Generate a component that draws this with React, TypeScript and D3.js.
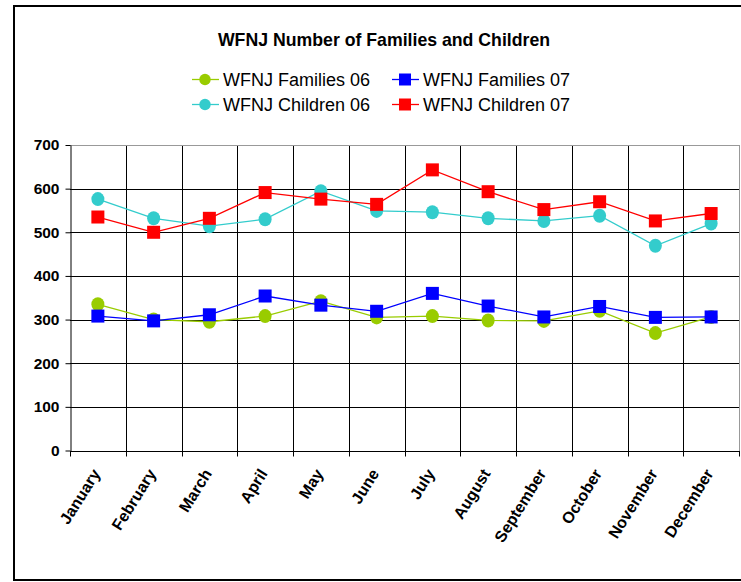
import React, { useEffect, useRef } from 'react'
import * as d3 from 'd3'

const months = ['January', 'February', 'March', 'April', 'May', 'June', 'July', 'August', 'September', 'October', 'November', 'December']
const families06 = [335, 300, 295, 308, 342, 305, 308, 298, 297, 320, 269, 306]
const families07 = [308, 297, 311, 354, 333, 319, 360, 331, 306, 330, 305, 306]
const children06 = [576, 532, 514, 530, 594, 549, 546, 532, 526, 538, 469, 520]
const children07 = [535, 500, 532, 591, 576, 564, 643, 593, 552, 570, 526, 543]
const yTicks = [0, 100, 200, 300, 400, 500, 600, 700]

const seriesList = [
  { name: 'WFNJ Families 06', values: families06, color: '#99CC00', marker: 'circle' },
  { name: 'WFNJ Families 07', values: families07, color: '#0000FF', marker: 'square' },
  { name: 'WFNJ Children 06', values: children06, color: '#33CCCC', marker: 'circle' },
  { name: 'WFNJ Children 07', values: children07, color: '#FF0000', marker: 'square' },
]

const FONT = '"Liberation Sans", Arial, sans-serif'

function drawMarker(g: any, kind: string, cx: number, cy: number, color: string) {
  if (kind === 'circle') {
    g.append('ellipse').attr('cx', cx).attr('cy', cy).attr('rx', 6.5).attr('ry', 7).attr('fill', color)
  } else {
    g.append('rect').attr('x', cx - 6.5).attr('y', cy - 6.5).attr('width', 13).attr('height', 13).attr('fill', color)
  }
}

export default function App() {
  const ref = useRef<SVGSVGElement>(null)

  useEffect(() => {
    const svg = d3.select(ref.current)
    svg.selectAll('*').remove()

    const left = 70, right = 739, top = 145, bottom = 450.5

    // outer frame
    svg.append('rect')
      .attr('x', 14).attr('y', 6).attr('width', 760).attr('height', 574)
      .attr('fill', 'white').attr('stroke', '#000').attr('stroke-width', 2)

    const x = d3.scaleBand().domain(months).range([left, right])
    const y = d3.scaleLinear().domain([0, 700]).range([bottom, top])

    // grid
    const grid = svg.append('g').attr('shape-rendering', 'crispEdges')
    grid.selectAll('line.h')
      .data(yTicks.slice(1, -1))
      .join('line')
      .attr('x1', left).attr('x2', right)
      .attr('y1', d => Math.round(y(d)) + 0.5).attr('y2', d => Math.round(y(d)) + 0.5)
      .attr('stroke', '#000')
    grid.selectAll('line.v')
      .data(months.slice(1))
      .join('line')
      .attr('x1', d => Math.round(x(d)!) + 0.5).attr('x2', d => Math.round(x(d)!) + 0.5)
      .attr('y1', top).attr('y2', bottom)
      .attr('stroke', '#000')
    // plot border top/right
    grid.append('path')
      .attr('d', `M${left},${top + 0.5}H${right + 0.5}V${bottom}`)
      .attr('fill', 'none').attr('stroke', '#999')

    // y axis
    const yAxis = svg.append('g')
      .attr('transform', `translate(${left + 0.5},0)`)
      .call(d3.axisLeft(y).tickValues(yTicks).tickSize(5).tickPadding(6).tickSizeOuter(0))
    yAxis.select('.domain').attr('stroke', '#000')
    yAxis.selectAll('text').attr('font-family', FONT).attr('font-size', 15.5).attr('font-weight', 'bold').attr('fill', '#000')

    // x axis
    const xAxis = svg.append('g')
      .attr('transform', `translate(0,${Math.round(bottom) + 0.5})`)
    xAxis.append('line').attr('x1', left).attr('x2', right + 1).attr('stroke', '#000')
    xAxis.selectAll('line.tick')
      .data(months.concat(['end']))
      .join('line')
      .attr('x1', (d, i) => Math.round(left + i * x.bandwidth()) + 0.5)
      .attr('x2', (d, i) => Math.round(left + i * x.bandwidth()) + 0.5)
      .attr('y1', 0).attr('y2', 5)
      .attr('stroke', '#000')
    xAxis.selectAll('text')
      .data(months)
      .join('text')
      .attr('transform', d => `translate(${x(d)! + x.bandwidth() / 2 + 3},22) rotate(-58)`)
      .attr('text-anchor', 'end')
      .attr('font-family', FONT).attr('font-size', 16).attr('font-weight', 'bold')
      .text(d => d)

    // series
    const line = d3.line<number>()
      .x((d, i) => x(months[i])! + x.bandwidth() / 2)
      .y(d => y(d))
    seriesList.forEach(s => {
      const g = svg.append('g')
      g.append('path').attr('d', line(s.values)).attr('fill', 'none').attr('stroke', s.color).attr('stroke-width', 1.3)
      s.values.forEach((v, i) => drawMarker(g, s.marker, x(months[i])! + x.bandwidth() / 2, y(v), s.color))
    })

    // title
    svg.append('text')
      .attr('x', 384).attr('y', 45.5)
      .attr('text-anchor', 'middle')
      .attr('font-family', FONT).attr('font-size', 17.7).attr('font-weight', 'bold')
      .text('WFNJ Number of Families and Children')

    // legend
    const legendPos = [[192, 79.5], [392, 79.5], [192, 104.5], [392, 104.5]]
    seriesList.forEach((s, i) => {
      const [lx, ly] = legendPos[i]
      const g = svg.append('g')
      g.append('line').attr('x1', lx).attr('x2', lx + 27).attr('y1', ly).attr('y2', ly).attr('stroke', s.color).attr('stroke-width', 1.3)
      if (s.marker === 'circle') {
        g.append('circle').attr('cx', lx + 13).attr('cy', ly).attr('r', 5.7).attr('fill', s.color)
      } else {
        g.append('rect').attr('x', lx + 7).attr('y', ly - 6).attr('width', 12).attr('height', 12).attr('fill', s.color)
      }
      g.append('text')
        .attr('x', lx + 31).attr('y', ly + 6.5)
        .attr('font-family', FONT).attr('font-size', 18)
        .text(s.name)
    })
  }, [])

  return (
    <svg ref={ref} width={741} height={582} style={{ position: 'absolute', left: 0, top: 0, background: '#fff' }} />
  )
}
